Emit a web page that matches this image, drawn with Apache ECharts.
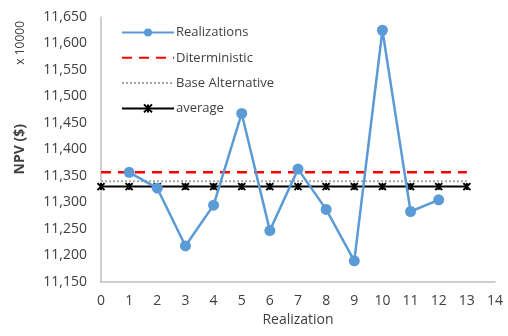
<!DOCTYPE html>
<html><head><meta charset="utf-8">
<script src="https://cdn.jsdelivr.net/npm/echarts@6/dist/echarts.min.js"></script>
<style>html,body{margin:0;padding:0;background:#fff}#c{width:508px;height:336px}</style>
</head><body><div id="c"></div>
<script>
const realizationX = [1, 2, 3, 4, 5, 6, 7, 8, 9, 10, 11, 12];
const realizationValues = [11357, 11327, 11218, 11295, 11468, 11247, 11363, 11287, 11190, 11625, 11283, 11305];
const refX = [0, 1, 2, 3, 4, 5, 6, 7, 8, 9, 10, 11, 12, 13];
const deterministicValue = 11357;
const baseAlternativeValue = 11340;
const averageValue = 11330;
const seriesNames = ['Realizations', 'Diterministic', 'Base Alternative', 'average'];

const font = 'Open Sans';
const txt = '#404040';
const clear = 'rgba(0,0,0,0)';
const chart = echarts.init(document.getElementById('c'), null, {renderer: 'canvas'});
const pairs = (xs, v) => xs.map((x, i) => [x, Array.isArray(v) ? v[i] : v]);
chart.setOption({
  animation: false,
  textStyle: {fontFamily: font},
  grid: {left: 101, right: 13, top: 17, bottom: 54},
  legend: {
    orient: 'vertical', left: 116, top: 21, itemWidth: 52, itemHeight: 10, itemGap: 12.3,
    textStyle: {fontFamily: font, fontSize: 13, color: txt, padding: [0, 0, 0, -3]},
    data: [
      {name: seriesNames[0]},
      {name: seriesNames[1], itemStyle: {opacity: 0}},
      {name: seriesNames[2], itemStyle: {opacity: 0}},
      {name: seriesNames[3]}
    ]
  },
  xAxis: {
    type: 'value', min: 0, max: 14, interval: 1,
    name: 'Realization', nameLocation: 'middle', nameGap: 30,
    nameTextStyle: {fontFamily: font, fontSize: 14, color: txt},
    axisLine: {lineStyle: {color: '#bfbfbf', width: 1.5}},
    axisTick: {show: false}, splitLine: {show: false},
    axisLabel: {fontFamily: font, fontSize: 14, color: txt, margin: 12}
  },
  yAxis: {
    type: 'value', min: 11150, max: 11650, interval: 50,
    axisLine: {show: true, lineStyle: {color: '#bfbfbf', width: 1.5}},
    axisTick: {show: false}, splitLine: {show: false},
    axisLabel: {fontFamily: font, fontSize: 14, color: txt, margin: 14,
      formatter: v => v.toLocaleString('en-US')}
  },
  graphic: [
    {type: 'text', left: 15, top: 21, rotation: Math.PI/2, style: {text: 'x 10000', font: '12px Open Sans', fill: txt}},
    {type: 'text', left: 13, top: 124, rotation: Math.PI/2, style: {text: 'NPV ($)', font: 'bold 14px Open Sans', fill: txt}}
  ],
  series: [
    {name: seriesNames[0], type: 'line', data: pairs(realizationX, realizationValues), z: 5,
      symbol: 'circle', symbolSize: 11, lineStyle: {color: '#5b9bd5', width: 2.5},
      itemStyle: {color: '#5b9bd5'}},
    {name: seriesNames[1], type: 'line', data: pairs(refX, deterministicValue), showSymbol: false, symbol: 'none',
      lineStyle: {color: '#ff0000', width: 2.5, type: [10, 7]}, itemStyle: {color: clear}},
    {name: seriesNames[2], type: 'line', data: pairs(refX, baseAlternativeValue), showSymbol: false, symbol: 'none',
      lineStyle: {color: '#a6a6a6', width: 2, type: [2, 2]}, itemStyle: {color: clear}},
    {name: seriesNames[3], type: 'line', data: pairs(refX, averageValue), z: 4,
      symbol: 'path://M0,0L10,10M10,0L0,10M5,0L5,10', symbolSize: 7,
      lineStyle: {color: '#000', width: 2}, itemStyle: {color: '#000', borderColor: '#000', borderWidth: 2}}
  ]
});
</script></body></html>
